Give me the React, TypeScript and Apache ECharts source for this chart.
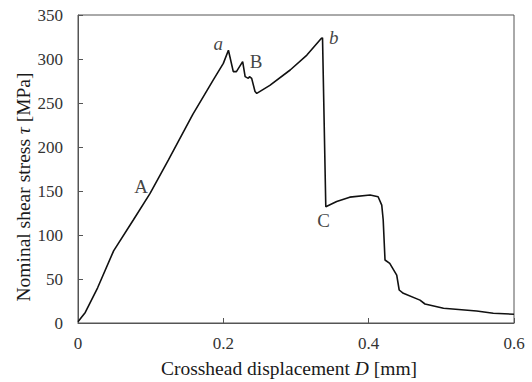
import React, { useEffect, useRef } from "react";
import * as echarts from "echarts";

const displacement: number[] = [
  0, 0.01, 0.027, 0.049, 0.0761, 0.099, 0.1243, 0.158, 0.186, 0.2,
  0.207, 0.2137, 0.218, 0.2266, 0.23, 0.2344, 0.236, 0.239, 0.2436, 0.246,
  0.264, 0.292, 0.315, 0.335, 0.3365, 0.341, 0.356, 0.374, 0.402, 0.413,
  0.418, 0.42, 0.4225, 0.429, 0.4386, 0.442, 0.4477, 0.4706, 0.4775, 0.503,
  0.5486, 0.5715, 0.6,
];
const stress: number[] = [
  1.5, 12, 40, 82, 117, 147, 185, 237, 276, 295,
  310, 285.6, 285.6, 297, 280, 278, 280, 278, 263, 261,
  270, 287.5, 304.5, 323.5, 324, 132, 138, 143, 145.5, 143.5,
  134, 117, 71.6, 67.8, 54.5, 37.5, 33.7, 26, 21.6, 16.7,
  13.6, 11, 10,
];

const xTicks: number[] = [0, 0.2, 0.4, 0.6];
const yTicks: number[] = [0, 50, 100, 150, 200, 250, 300, 350];

const labelNames: string[] = ["A", "a", "B", "b", "C"];
const labelX: number[] = [0.087, 0.193, 0.245, 0.352, 0.338];
const labelY: number[] = [155, 318, 297, 324, 117];
const labelItalic: boolean[] = [false, true, false, true, false];

export default function App() {
  const ref = useRef<HTMLDivElement>(null);
  useEffect(() => {
    if (!ref.current) return;
    const chart = echarts.init(ref.current, undefined, { renderer: "svg" });
    const font = "Liberation Serif";
    const axisColor = "#555555";
    const txt = "#1a1a1a";
    chart.setOption({
      animation: false,
      backgroundColor: "#ffffff",
      textStyle: { fontFamily: font },
      grid: {
        left: 78,
        top: 15,
        right: 18,
        bottom: 59,
        show: true,
        borderColor: axisColor,
        borderWidth: 1,
        backgroundColor: "transparent",
      },
      xAxis: {
        type: "value",
        min: 0,
        max: 0.6,
        interval: 0.2,
        axisLine: { show: true, lineStyle: { color: axisColor, width: 1 } },
        axisTick: { show: true, inside: true, length: 5, lineStyle: { color: axisColor } },
        splitLine: { show: false },
        axisLabel: {
          fontFamily: font,
          fontSize: 17,
          color: "#333",
          margin: 12,
          formatter: (v: number) => {
            const t = xTicks.find((k) => Math.abs(k - v) < 1e-9);
            return t === undefined ? "" : t === 0 ? "0" : String(t);
          },
        },
      },
      yAxis: {
        type: "value",
        min: 0,
        max: 350,
        interval: 50,
        axisLine: { show: true, lineStyle: { color: axisColor, width: 1 } },
        axisTick: { show: true, inside: true, length: 5, lineStyle: { color: axisColor } },
        splitLine: { show: false },
        axisLabel: {
          fontFamily: font,
          fontSize: 17,
          color: "#333",
          margin: 15,
          formatter: (v: number) => (yTicks.includes(v) ? String(v) : ""),
        },
      },
      graphic: [
        {
          type: "text",
          x: 289,
          y: 368,
          style: {
            text: "Crosshead displacement {i|D} [mm]",
            fontFamily: font,
            fontSize: 19.5,
            fill: txt,
            align: "center",
            verticalAlign: "middle",
            rich: { i: { fontStyle: "italic", fontFamily: font, fontSize: 19.5, fill: txt } },
          },
        },
        {
          type: "text",
          x: 23,
          y: 187,
          rotation: Math.PI / 2,
          style: {
            text: "Nominal shear stress {i|τ} [MPa]",
            fontFamily: font,
            fontSize: 19.5,
            fill: txt,
            align: "center",
            verticalAlign: "middle",
            rich: { i: { fontStyle: "italic", fontFamily: font, fontSize: 19.5, fill: txt } },
          },
        },
      ],
      series: [
        {
          type: "line",
          data: displacement.map((d, i) => [d, stress[i]]),
          showSymbol: false,
          symbol: "none",
          lineStyle: { color: "#111", width: 1.6 },
          z: 3,
        },
        {
          type: "scatter",
          symbolSize: 0,
          data: labelNames.map((n, i) => ({
            value: [labelX[i], labelY[i]],
            name: n,
            label: {
              show: true,
              position: "inside",
              formatter: n,
              fontFamily: font,
              fontSize: 19,
              fontStyle: labelItalic[i] ? "italic" : "normal",
              color: "#111",
            },
          })),
          z: 4,
        },
      ],
    });
    return () => chart.dispose();
  }, []);
  return (
    <div
      ref={ref}
      style={{ position: "fixed", left: 0, top: 0, width: 532, height: 382 }}
    />
  );
}
